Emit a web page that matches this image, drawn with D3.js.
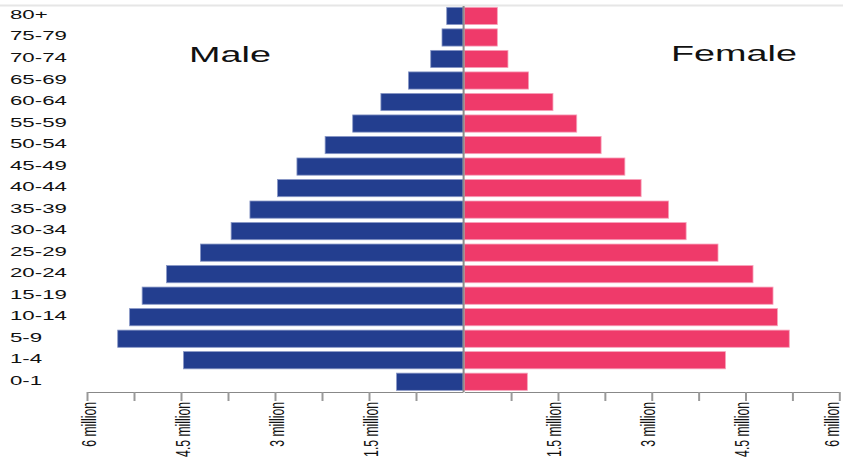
<!DOCTYPE html>
<html>
<head>
<meta charset="utf-8">
<script src="https://cdn.jsdelivr.net/npm/d3@7"></script>
<style>
  html, body { margin: 0; padding: 0; background: #fff; }
  svg { display: block; }
</style>
</head>
<body>
<svg id="chart" width="843" height="460"></svg>
<script>
// ---- data (millions) ----
const ages = ["0-1","1-4","5-9","10-14","15-19","20-24","25-29","30-34","35-39","40-44","45-49","50-54","55-59","60-64","65-69","70-74","75-79","80+"];
const male = [1.06,4.46,5.51,5.32,5.12,4.73,4.19,3.70,3.40,2.96,2.65,2.20,1.76,1.31,0.87,0.515,0.335,0.26];
const female = [1.01,4.18,5.20,5.01,4.94,4.62,4.06,3.55,3.27,2.83,2.57,2.19,1.80,1.42,1.03,0.70,0.53,0.53];
const tickValues = [0.75,1.5,2.25,3,3.75,4.5,5.25,6];
const tickLabels = {1.5:"1.5 million", 3:"3 million", 4.5:"4.5 million", 6:"6 million"};
const seriesNames = ["Male","Female"];

const SX = 1.68;      // horizontal stretch of text
const SX_AGE = 1.78;  // stretch for age labels
const svg = d3.select("#chart");

const y = d3.scaleBand().domain(ages.slice().reverse()).range([5.2, 392.5]).paddingInner(0.2).paddingOuter(0.1);
const xL = d3.scaleLinear().domain([0, 6]).range([463, 87]);
const xR = d3.scaleLinear().domain([0, 6]).range([464.2, 839.3]);

// top light line
svg.append("line").attr("x1", 0).attr("x2", 843).attr("y1", 5.5).attr("y2", 5.5)
  .attr("stroke", "#e6e6e6").attr("stroke-width", 2);

const rows = ages.map((a, i) => ({age: a, m: male[i], f: female[i]}));

svg.append("g").selectAll("rect").data(rows).join("rect")
  .attr("x", d => xL(d.m)).attr("width", d => xL(0) - xL(d.m))
  .attr("y", d => y(d.age)).attr("height", y.bandwidth())
  .attr("fill", "#233e8f").attr("stroke", "#8897c6").attr("stroke-width", 0.8);

svg.append("g").selectAll("rect").data(rows).join("rect")
  .attr("x", xR(0)).attr("width", d => xR(d.f) - xR(0))
  .attr("y", d => y(d.age)).attr("height", y.bandwidth())
  .attr("fill", "#ef3a6a").attr("stroke", "#f7a3bb").attr("stroke-width", 0.8);

// center line
svg.append("line").attr("x1", 463.6).attr("x2", 463.6).attr("y1", 6).attr("y2", 392)
  .attr("stroke", "#8a8a8a").attr("stroke-width", 2);

// age labels
svg.append("g").selectAll("text").data(ages).join("text")
  .attr("transform", d => `translate(10,${y(d) + y.bandwidth()/2 + 3}) scale(${SX_AGE},1)`)
  .attr("font-family", "Liberation Sans, Arial, sans-serif")
  .attr("font-size", 12.5).attr("fill", "#111")
  .text(d => d);

// axes
function drawAxis(scale, offset, lastOffset) {
  const g = svg.append("g").attr("transform", "translate(0,392)")
    .call(d3.axisBottom(scale).tickValues(tickValues).tickSize(9).tickSizeOuter(0)
      .tickFormat(d => tickLabels[d] || ""));
  g.select(".domain").attr("stroke", "#888").attr("stroke-width", 1.2);
  g.selectAll(".tick line").attr("stroke", "#999").attr("stroke-width", 2);
  g.selectAll(".tick text")
    .attr("x", null).attr("y", null).attr("dy", null)
    .attr("transform", d => `translate(${d === 6 ? lastOffset : offset},10) scale(${SX},1) rotate(-90)`)
    .attr("text-anchor", "end")
    .attr("font-family", "Liberation Sans, Arial, sans-serif")
    .attr("font-size", 12.2).attr("fill", "#111");
}
drawAxis(xL, 8.3, 8.3);
drawAxis(xR, 3.0, -0.5);

// series titles
svg.append("text").attr("transform", `translate(230,62) scale(${SX},1)`)
  .attr("text-anchor", "middle").attr("font-family", "Liberation Sans, Arial, sans-serif")
  .attr("font-size", 22.5).attr("fill", "#111").text(seriesNames[0]);
svg.append("text").attr("transform", `translate(734,61) scale(${SX},1)`)
  .attr("text-anchor", "middle").attr("font-family", "Liberation Sans, Arial, sans-serif")
  .attr("font-size", 22.5).attr("fill", "#111").text(seriesNames[1]);
</script>
</body>
</html>
